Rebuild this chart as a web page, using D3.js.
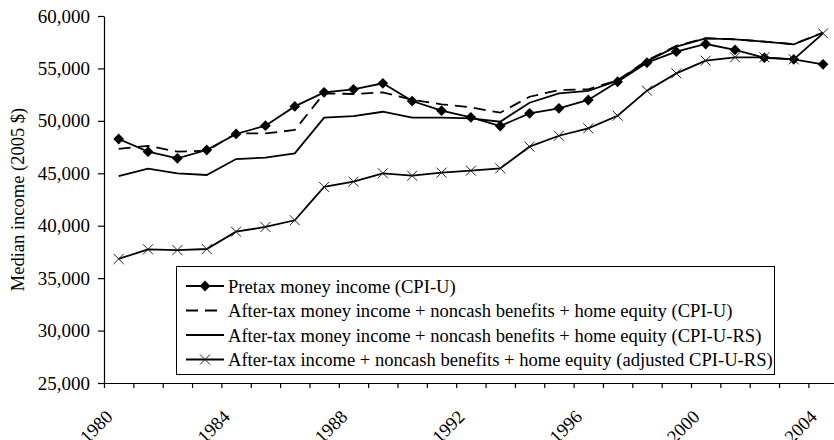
<!DOCTYPE html>
<html>
<head>
<meta charset="utf-8">
<script src="https://cdn.jsdelivr.net/npm/d3@7"></script>
<style>
body { margin: 0; background: #fff; }
svg { font-family: "Liberation Serif", "Times New Roman", serif; display: block; }
</style>
</head>
<body>
<script>
// categories
var years = [1980, 1981, 1982, 1983, 1984, 1985, 1986, 1987, 1988, 1989,
    1990, 1991, 1992, 1993, 1994, 1995, 1996, 1997, 1998, 1999,
    2000, 2001, 2002, 2003, 2004];
var yearLabels = [1980, 1984, 1988, 1992, 1996, 2000, 2004];
var yTicks = [25000, 30000, 35000, 40000, 45000, 50000, 55000, 60000];

// series values (2005 $)
var pretaxCPIU = [48270, 47060, 46430, 47220, 48750, 49540, 51380, 52720, 53010, 53580,
    51890, 50970, 50340, 49510, 50720, 51200, 51990, 53730, 55550, 56600,
    57330, 56760, 56020, 55870, 55390];
var afterTaxCPIU = [47320, 47620, 47060, 47150, 48800, 48800, 49130, 52630, 52560, 52720,
    52000, 51580, 51290, 50780, 52300, 52940, 53010, 53880, 55760, 57150,
    57880, 57780, 57560, 57310, 58420];
var afterTaxCPIURS = [44740, 45440, 45000, 44840, 46360, 46490, 46900, 50300, 50460, 50870,
    50300, 50300, 50240, 49920, 51730, 52630, 52850, 53820, 55700, 57080,
    57870, 57780, 57550, 57300, 58400];
var afterTaxAdjCPIURS = [36830, 37750, 37680, 37780, 39430, 39880, 40520, 43700, 44200, 45000,
    44770, 45060, 45250, 45470, 47540, 48580, 49290, 50490, 52880, 54530,
    55740, 56060, 56060, 55870, 58350];

var seriesNames = [
    "Pretax money income (CPI-U)",
    "After-tax money income + noncash benefits + home equity (CPI-U)",
    "After-tax money income + noncash benefits + home equity (CPI-U-RS)",
    "After-tax income + noncash benefits + home equity (adjusted CPI-U-RS)"
];

var series = [
    { name: seriesNames[0], values: pretaxCPIU, dash: null, marker: "diamond" },
    { name: seriesNames[1], values: afterTaxCPIU, dash: "12,7", marker: null },
    { name: seriesNames[2], values: afterTaxCPIURS, dash: null, marker: null },
    { name: seriesNames[3], values: afterTaxAdjCPIURS, dash: null, marker: "x" }
];

var w = 834, h = 440;
var plotLeft = 104, plotTop = 16, plotBottom = 383;
var step = 29.35;

var svg = d3.select("body").append("svg")
    .attr("width", w)
    .attr("height", h);

var x = d3.scaleBand()
    .domain(years)
    .range([plotLeft, plotLeft + years.length * step])
    .padding(0);

var xEdge = d3.scaleLinear()
    .domain([0, years.length])
    .range([plotLeft, plotLeft + years.length * step]);

var y = d3.scaleLinear()
    .domain([25000, 60000])
    .range([plotBottom, plotTop]);

function cx(yr) { return x(yr) + x.bandwidth() / 2; }

// y axis
var yAxis = d3.axisLeft(y)
    .tickValues(yTicks)
    .tickSize(6)
    .tickSizeOuter(0)
    .tickPadding(8)
    .tickFormat(d3.format(","));

var gy = svg.append("g")
    .attr("transform", "translate(" + plotLeft + ",0)")
    .call(yAxis);
gy.selectAll("text").attr("font-size", 19).attr("font-family", "Liberation Serif").attr("fill", "#000");
gy.selectAll("line, path").attr("stroke", "#000").attr("stroke-width", 1.2);

// x axis (ticks between categories)
var xAxis = d3.axisBottom(xEdge)
    .tickValues(d3.range(0, years.length + 1))
    .tickSize(5)
    .tickSizeOuter(0)
    .tickFormat("");

var gx = svg.append("g")
    .attr("transform", "translate(0," + plotBottom + ")")
    .call(xAxis);
gx.selectAll("line, path").attr("stroke", "#000").attr("stroke-width", 1.2);

svg.append("g").selectAll("text")
    .data(yearLabels)
    .enter()
    .append("text")
    .attr("transform", function (d) {
        return "translate(" + (cx(d) - 5) + "," + (plotBottom + 35) + ") rotate(-45)";
    })
    .attr("text-anchor", "end")
    .attr("font-size", 18.5)
    .text(function (d) { return d; });

// y axis title
svg.append("text")
    .attr("transform", "translate(24," + ((plotTop + plotBottom) / 2) + ") rotate(-90)")
    .attr("text-anchor", "middle")
    .attr("font-size", 18.5)
    .text("Median income (2005 $)");

// lines
var line = d3.line()
    .x(function (d, i) { return cx(years[i]); })
    .y(function (d) { return y(d); });

svg.selectAll(".series")
    .data(series)
    .enter()
    .append("path")
    .attr("class", "series")
    .attr("fill", "none")
    .attr("stroke", "#000")
    .attr("stroke-width", 1.8)
    .attr("stroke-dasharray", function (d) { return d.dash; })
    .attr("d", function (d) { return line(d.values); });

var diamond = d3.symbol().type(d3.symbolSquare).size(58);
var cross = "M-5,-5L5,5M-5,5L5,-5";

function drawMarker(sel, kind) {
    if (kind === "diamond") {
        sel.append("path")
            .attr("d", diamond)
            .attr("transform", "rotate(45)")
            .attr("fill", "#000");
    } else if (kind === "x") {
        sel.append("path")
            .attr("d", cross)
            .attr("fill", "none")
            .attr("stroke", "#222")
            .attr("stroke-width", 1);
    }
}

series.forEach(function (s) {
    if (!s.marker) return;
    svg.append("g").selectAll("g")
        .data(s.values)
        .enter()
        .append("g")
        .attr("transform", function (d, i) {
            return "translate(" + cx(years[i]) + "," + y(d) + ")";
        })
        .call(drawMarker, s.marker);
});

// legend
var legend = svg.append("g").attr("transform", "translate(176,266)");
legend.append("rect")
    .attr("x", 0.5)
    .attr("y", 0.5)
    .attr("width", 598)
    .attr("height", 108)
    .attr("fill", "#fff")
    .attr("stroke", "#000")
    .attr("stroke-width", 1);

var rows = legend.selectAll(".row")
    .data(series)
    .enter()
    .append("g")
    .attr("class", "row")
    .attr("transform", function (d, i) { return "translate(0," + (20 + i * 24.5) + ")"; });

rows.append("line")
    .attr("x1", 10)
    .attr("x2", 48)
    .attr("stroke", "#000")
    .attr("stroke-width", 1.8)
    .attr("stroke-dasharray", function (d) { return d.dash; });

rows.each(function (d) {
    if (d.marker) {
        d3.select(this).append("g")
            .attr("transform", "translate(29,0)")
            .call(drawMarker, d.marker);
    }
});

rows.append("text")
    .attr("x", 52)
    .attr("dy", "0.35em")
    .attr("font-size", 18.6)
    .text(function (d) { return d.name; });
</script>
</body>
</html>
